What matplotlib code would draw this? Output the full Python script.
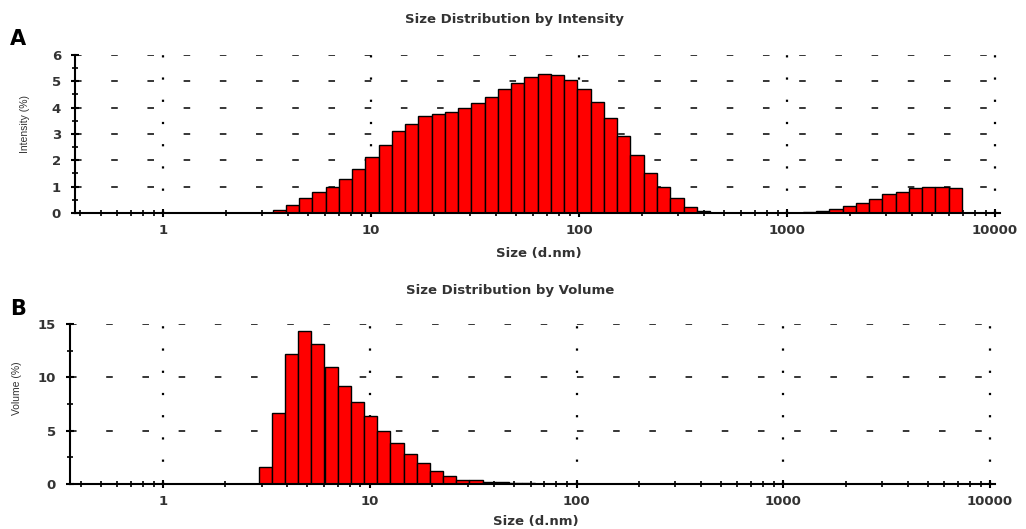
import matplotlib
matplotlib.use('Agg')
import matplotlib.pyplot as plt
import numpy as np
from matplotlib.ticker import FixedLocator, FixedFormatter, MultipleLocator, LogLocator, NullFormatter

plt.rcParams['font.family'] = ['DejaVu Sans']

# Zetasizer size classes (d.nm), 70 log-spaced bins
sizes = [0.4000, 0.4632, 0.5365, 0.6213, 0.7195, 0.8332, 0.9649, 1.117, 1.294, 1.499,
         1.736, 2.010, 2.328, 2.696, 3.122, 3.615, 4.187, 4.849, 5.615, 6.503,
         7.531, 8.721, 10.10, 11.70, 13.54, 15.69, 18.17, 21.04, 24.36, 28.21,
         32.67, 37.84, 43.82, 50.75, 58.77, 68.06, 78.82, 91.28, 105.7, 122.4,
         141.8, 164.2, 190.1, 220.2, 255.0, 295.3, 342.0, 396.1, 458.7, 531.2,
         615.1, 712.4, 825.0, 955.4, 1106, 1281, 1484, 1718, 1990, 2305,
         2669, 3091, 3580, 4145, 4801, 5560, 6439, 7456, 8635, 10000]

# Intensity (%) per size class
intensity = [0, 0, 0, 0, 0, 0, 0, 0, 0, 0,
             0, 0, 0, 0, 0, 0.10, 0.32, 0.55, 0.79, 0.97,
             1.30, 1.66, 2.13, 2.60, 3.10, 3.38, 3.67, 3.75, 3.85, 3.99,
             4.17, 4.41, 4.69, 4.93, 5.15, 5.28, 5.23, 5.05, 4.71, 4.21,
             3.60, 2.91, 2.22, 1.53, 0.99, 0.58, 0.21, 0.09, 0, 0,
             0, 0, 0, 0, 0, 0.02, 0.06, 0.15, 0.26, 0.39,
             0.53, 0.71, 0.80, 0.94, 0.99, 0.99, 0.94, 0, 0, 0]

# Volume (%) per size class
volume = [0, 0, 0, 0, 0, 0, 0, 0, 0, 0,
          0, 0, 0, 0, 1.60, 6.70, 12.2, 14.3, 13.15, 10.95,
          9.20, 7.68, 6.33, 4.93, 3.80, 2.77, 1.94, 1.26, 0.78, 0.42,
          0.42, 0.16, 0.16, 0.07, 0.07, 0.04, 0, 0, 0, 0,
          0, 0, 0, 0, 0, 0, 0, 0, 0, 0,
          0, 0, 0, 0, 0, 0, 0, 0, 0, 0,
          0, 0, 0, 0, 0, 0, 0, 0, 0, 0]

decades = [1, 10, 100, 1000, 10000]
decade_labels = ['1', '10', '100', '1000', '10000']

sizes = np.array(sizes)
step = np.sqrt(sizes[1] / sizes[0])
lefts = sizes / step
widths = sizes * step - lefts

fig = plt.figure(figsize=(10.26, 5.29), dpi=100)
ax1 = fig.add_axes([0.0731, 0.5974, 0.9016, 0.2987])
ax2 = fig.add_axes([0.0682, 0.0851, 0.9016, 0.3025])

txt = '#333333'
panels = [
    # axes, values, ymax, major, minor, ylabel, title, xmin, title pos, xlabel pos, ylabel pos
    (ax1, np.array(intensity), 6, 1, 0.5, 'Intensity (%)', 'Size Distribution by Intensity',
     0.377, (0.501, 0.963), (0.525, 0.521), (-0.049, 0.56)),
    (ax2, np.array(volume), 15, 5, 2.5, 'Volume (%)', 'Size Distribution by Volume',
     0.355, (0.497, 0.451), (0.522, 0.014), (-0.052, 0.60)),
]

for ax, vals, ymax, ymaj, ymin, ylab, title, xmin, tpos, xlpos, ylpos in panels:
    m = vals > 0
    ax.bar(lefts[m], vals[m], width=widths[m], align='edge',
           color='#ff0000', edgecolor='black', linewidth=1.0, zorder=3)
    ax.set_xscale('log')
    ax.set_xlim(xmin, 10570)
    ax.set_ylim(0, ymax)

    for s in ['top', 'right']:
        ax.spines[s].set_visible(False)
    for s in ['left', 'bottom']:
        ax.spines[s].set_linewidth(1.5)
        ax.spines[s].set_zorder(4)

    ax.xaxis.set_major_locator(FixedLocator(decades))
    ax.xaxis.set_major_formatter(FixedFormatter(decade_labels))
    ax.xaxis.set_minor_locator(LogLocator(base=10, subs=np.arange(2, 10)))
    ax.xaxis.set_minor_formatter(NullFormatter())
    ax.yaxis.set_major_locator(MultipleLocator(ymaj))
    ax.yaxis.set_minor_locator(MultipleLocator(ymin))

    ax.tick_params(axis='both', which='major', direction='inout', length=6, width=1.5,
                   labelsize=9.5, labelcolor=txt)
    ax.tick_params(axis='x', which='major', pad=5)
    ax.tick_params(axis='y', which='major', pad=7)
    ax.tick_params(axis='both', which='minor', direction='inout', length=5, width=1.2)
    for lab in ax.get_xticklabels() + ax.get_yticklabels():
        lab.set_fontweight('bold')

    # sparse dashed horizontal grid, dotted vertical grid at decades
    for yv in np.arange(ymaj, ymax + 0.01, ymaj):
        ax.axhline(yv, color='black', lw=1.1, linestyle=(0, (4.3, 19.4)), zorder=1)
    for xv in decades:
        ax.axvline(xv, color='black', lw=1.6, linestyle=(0, (1.0, 9.0)), zorder=1)

    ax.set_ylabel(ylab, fontsize=7.5, color=txt, family='Liberation Sans')
    ax.yaxis.set_label_coords(*ylpos)
    fig.text(xlpos[0], xlpos[1], 'Size (d.nm)', fontsize=9.5, fontweight='bold', color=txt,
             ha='center', va='center')
    fig.text(tpos[0], tpos[1], title, fontsize=9.5, fontweight='bold', color=txt,
             ha='center', va='center')

fig.text(0.010, 0.915, 'A', fontsize=15, fontweight='bold', color='black')
fig.text(0.010, 0.405, 'B', fontsize=15, fontweight='bold', color='black')

fig.savefig('out.png', dpi=100)
